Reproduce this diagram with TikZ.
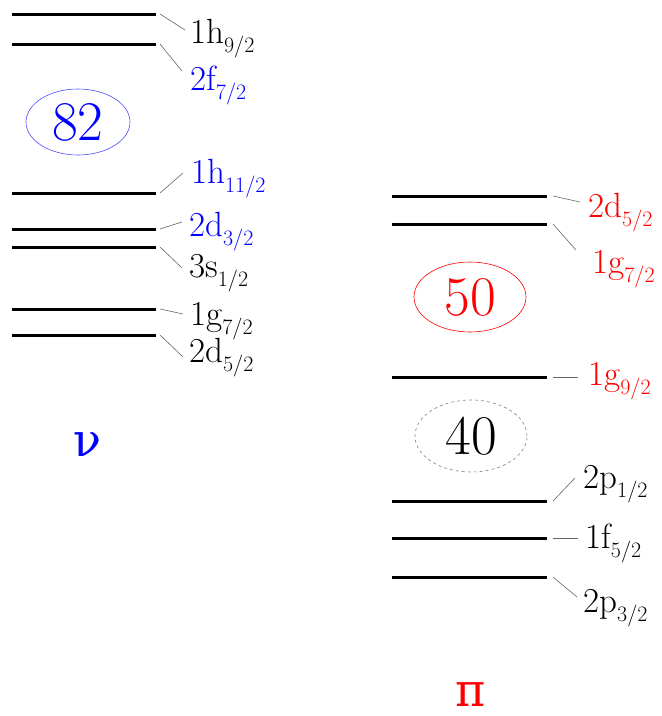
\documentclass[tikz,border=0pt]{standalone}
\usepackage{fontspec}
\newfontfamily\grk{DejaVu Serif}
\usepackage{tikz}
\usetikzlibrary{shapes.geometric}

% orbital name with lowered j subscript
\newcommand{\orb}[2]{#1\raisebox{-0.26em}{\fontsize{22}{22}\selectfont #2}}

\begin{document}
\begin{tikzpicture}[
    x=1pt, y=-1pt,
    level/.style={line width=3pt},
    leader/.style={gray!80!black, line width=0.6pt},
    lab/.style={anchor=base west, inner sep=0pt, font=\fontsize{35}{35}\selectfont},
    magic/.style={ellipse, draw, line width=0.6pt, minimum width=104pt, minimum height=66pt, inner sep=0pt, font=\fontsize{56}{56}\selectfont},
    tag/.style={anchor=base, inner sep=0pt, font=\grk\fontsize{46}{46}\selectfont}
]
\useasboundingbox (0,0) rectangle (662,716);

% neutrons
\draw[level] (12,14) -- (156,14) coordinate (nh9);
\draw[level] (12,44) -- (156,44) coordinate (nf7);
\draw[level] (12,193) -- (156,193) coordinate (nh11);
\draw[level] (12,229) -- (156,229) coordinate (nd3);
\draw[level] (12,247) -- (156,247) coordinate (ns1);
\draw[level] (12,309) -- (156,309) coordinate (ng7);
\draw[level] (12,335) -- (156,335) coordinate (nd5);

\node[lab] (nh9l) at (190,43) {\orb{1h}{9/2}};
\node[lab, text=blue] (nf7l) at (190,90) {\orb{2f}{7/2}};
\node[lab, text=blue] (nh11l) at (191,183) {\orb{1h}{11/2}};
\node[lab, text=blue] (nd3l) at (189,236) {\orb{2d}{3/2}};
\node[lab] (ns1l) at (189,277) {\orb{3s}{1/2}};
\node[lab] (ng7l) at (190,325) {\orb{1g}{7/2}};
\node[lab] (nd5l) at (189,362) {\orb{2d}{5/2}};

\coordinate (nh9t) at (185,30);
\coordinate (nf7t) at (182,71);
\coordinate (nh11t) at (183,173);
\coordinate (nd3t) at (182,222);
\coordinate (ns1t) at (182,268);
\coordinate (ng7t) at (183,314);
\coordinate (nd5t) at (183,357);

\draw[leader] ([xshift=4pt]nh9) -- (nh9t);
\draw[leader] ([xshift=4pt]nf7) -- (nf7t);
\draw[leader] ([xshift=4pt]nh11) -- (nh11t);
\draw[leader] ([xshift=4pt]nd3) -- (nd3t);
\draw[leader] ([xshift=4pt]ns1) -- (ns1t);
\draw[leader] ([xshift=4pt]ng7) -- (ng7t);
\draw[leader] ([xshift=4pt]nd5) -- (nd5t);

\node[magic, draw=blue!70, text=blue] (n82) at (78,122) {82};
\node[tag, text=blue] (nu) at (87,456) {ν};

% protons
\draw[level] (392,196) -- (547,196) coordinate (pd5);
\draw[level] (392,224) -- (547,224) coordinate (pg7);
\draw[level] (392,377) -- (547,377) coordinate (pg9);
\draw[level] (392,501) -- (547,501) coordinate (pp1);
\draw[level] (392,538) -- (547,538) coordinate (pf5);
\draw[level] (392,577) -- (547,577) coordinate (pp3);

\node[lab, text=red] (pd5l) at (588,217) {\orb{2d}{5/2}};
\node[lab, text=red] (pg7l) at (592,273) {\orb{1g}{7/2}};
\node[lab, text=red] (pg9l) at (588,385) {\orb{1g}{9/2}};
\node[lab] (pp1l) at (583,488) {\orb{2p}{1/2}};
\node[lab] (pf5l) at (585,548) {\orb{1f}{5/2}};
\node[lab] (pp3l) at (583,612) {\orb{2p}{3/2}};

\coordinate (pd5t) at (580,202);
\coordinate (pg7t) at (576,250);
\coordinate (pg9t) at (578,377);
\coordinate (pp1t) at (575,478);
\coordinate (pf5t) at (578,538);
\coordinate (pp3t) at (577,597);

\draw[leader] ([xshift=6pt]pd5) -- (pd5t);
\draw[leader] ([xshift=6pt]pg7) -- (pg7t);
\draw[leader] ([xshift=6pt]pg9) -- (pg9t);
\draw[leader] ([xshift=6pt]pp1) -- (pp1t);
\draw[leader] ([xshift=6pt]pf5) -- (pf5t);
\draw[leader] ([xshift=6pt]pp3) -- (pp3t);

\node[magic, draw=red, text=red, minimum width=112pt, minimum height=70pt] (p50) at (470,297) {50};
\node[magic, draw=gray, dashed, minimum width=112pt, minimum height=72pt] (p40) at (471,436) {40};
\node[tag, text=red] (pi) at (471,706) {π};

\end{tikzpicture}
\end{document}
